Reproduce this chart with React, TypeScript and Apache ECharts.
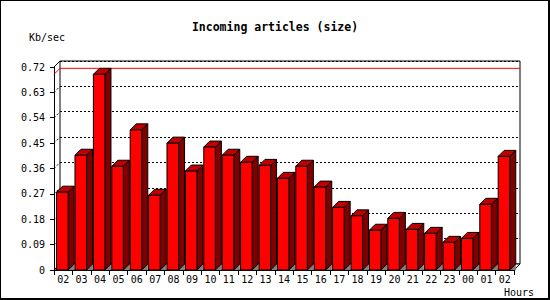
import React, { useEffect, useRef } from "react";
import * as echarts from "echarts";

const hours = ["02","03","04","05","06","07","08","09","10","11","12","13","14","15","16","17","18","19","20","21","22","23","00","01","02"];
const kbPerSec = [0.276,0.407,0.694,0.368,0.497,0.265,0.450,0.351,0.436,0.407,0.382,0.371,0.325,0.368,0.294,0.222,0.192,0.141,0.183,0.144,0.130,0.098,0.112,0.233,0.403];
const yTicks = [0,0.09,0.18,0.27,0.36,0.45,0.54,0.63,0.72];

const FONT = "'DejaVu Sans Mono', monospace";
const D = 6;

export default function App() {
  const ref = useRef<HTMLDivElement>(null);
  useEffect(() => {
    if (!ref.current) return;
    const chart = echarts.init(ref.current, null, { renderer: "svg" });
    const maxV = Math.max(...kbPerSec);

    const renderFrame = (params: any, api: any) => {
      const cs = params.coordSys;
      const x0 = cs.x, y0 = cs.y, w = cs.width, h = cs.height;
      const yb = y0 + h;
      const children: any[] = [];
      children.push({
        type: "polygon",
        shape: { points: [[x0, yb], [x0 + w, yb], [x0 + w + D, yb - D], [x0 + D, yb - D]] },
        style: { fill: "#ffffff", stroke: "#000", lineWidth: 1 },
      });
      children.push({
        type: "line",
        shape: { x1: x0, y1: y0, x2: x0 + D, y2: y0 - D },
        style: { stroke: "#000", lineWidth: 1 },
      });
      yTicks.forEach((v) => {
        const y = api.coord([0, v])[1];
        children.push({
          type: "line",
          shape: { x1: x0, y1: y, x2: x0 + D, y2: y - D },
          style: { stroke: "#000", lineWidth: 1, lineDash: [2, 2] },
        });
      });
      const ym = api.coord([0, maxV])[1];
      children.push({
        type: "polyline",
        shape: { points: [[x0, ym], [x0 + D, ym - D], [x0 + w + D, ym - D]] },
        style: { stroke: "#ff0000", lineWidth: 1, fill: "none" },
      });
      return { type: "group", children };
    };

    const renderBar = (params: any, api: any) => {
      const i = api.value(0);
      const v = api.value(1);
      const top = api.coord([i, v]);
      const bot = api.coord([i, 0]);
      const bw = api.size([1, 0])[0];
      const cx = top[0];
      const yt = top[1], yb = bot[1];
      const fl = cx - bw * 0.36;
      const fr = cx + bw * 0.27;
      return {
        type: "group",
        children: [
          {
            type: "polygon",
            shape: { points: [[fr, yb], [fr + D, yb - D], [fr + D, yb]] },
            style: { fill: "#808080", stroke: "#808080", lineWidth: 0.5 },
          },
          {
            type: "polygon",
            shape: { points: [[fr, yt], [fr + D, yt - D], [fr + D, yb - D], [fr, yb]] },
            style: { fill: "#800000", stroke: "#000", lineWidth: 1 },
          },
          {
            type: "polygon",
            shape: { points: [[fl, yt], [fl + D, yt - D], [fr + D, yt - D], [fr, yt]] },
            style: { fill: "#c00000", stroke: "#000", lineWidth: 1 },
          },
          {
            type: "rect",
            shape: { x: fl, y: yt, width: fr - fl, height: yb - yt },
            style: { fill: "#ff0000", stroke: "#000", lineWidth: 1 },
          },
        ],
      };
    };

    chart.setOption({
      animation: false,
      backgroundColor: "#ffffff",
      grid: [
        { left: 54, right: 36, top: 67, bottom: 30 },
        { left: 60, right: 30, top: 61, bottom: 36, show: true, borderColor: "#000", borderWidth: 1, backgroundColor: "#fff" },
      ],
      xAxis: [
        {
          type: "category",
          gridIndex: 0,
          data: hours,
          boundaryGap: true,
          axisLine: { show: true, lineStyle: { color: "#000", width: 1 } },
          axisTick: { show: true, length: 5, interval: 0, lineStyle: { color: "#000" } },
          axisLabel: { interval: 0, margin: 4, color: "#000", fontFamily: FONT, fontSize: 10 },
          splitLine: { show: false },
          z: 3,
        },
        {
          type: "category",
          gridIndex: 1,
          data: hours,
          show: false,
        },
      ],
      yAxis: [
        {
          type: "value",
          gridIndex: 0,
          min: 0,
          max: 0.72,
          interval: 0.09,
          axisLine: { show: true, lineStyle: { color: "#000", width: 1 } },
          axisTick: { show: true, length: 4, lineStyle: { color: "#000" } },
          axisLabel: {
            margin: 9,
            color: "#000",
            fontFamily: FONT,
            fontSize: 10,
            formatter: (v: number) => (v === 0 ? "0" : v.toFixed(2)),
          },
          splitLine: { show: false },
        },
        {
          type: "value",
          gridIndex: 1,
          min: 0,
          max: 0.72,
          interval: 0.09,
          axisLine: { show: false },
          axisTick: { show: false },
          axisLabel: { show: false },
          splitLine: { show: true, lineStyle: { color: "#000", width: 1, type: [2, 2] } },
        },
      ],
      series: [
        {
          type: "custom",
          xAxisIndex: 0,
          yAxisIndex: 0,
          data: [[0, 0]],
          renderItem: renderFrame,
          encode: { x: 0, y: 1 },
          silent: true,
          clip: false,
        },
        {
          type: "custom",
          xAxisIndex: 0,
          yAxisIndex: 0,
          data: hours.map((h, i) => [i, kbPerSec[i]]),
          renderItem: renderBar,
          encode: { x: 0, y: 1 },
          clip: false,
        },
      ],
      graphic: [
        {
          type: "text",
          x: 275,
          y: 26.5,
          style: {
            text: "Incoming articles (size)",
            fill: "#000",
            fontFamily: FONT,
            fontSize: 11.5,
            fontWeight: "bold",
            align: "center",
            verticalAlign: "middle",
          },
        },
        {
          type: "text",
          x: 29,
          y: 37,
          style: { text: "Kb/sec", fill: "#000", fontFamily: FONT, fontSize: 10, align: "left", verticalAlign: "middle" },
        },
        {
          type: "text",
          x: 504,
          y: 292,
          style: { text: "Hours", fill: "#000", fontFamily: FONT, fontSize: 10, align: "left", verticalAlign: "middle" },
        },
        { type: "line", shape: { x1: 0, y1: 0.5, x2: 550, y2: 0.5 }, style: { stroke: "#000", lineWidth: 1 } },
        { type: "line", shape: { x1: 0.5, y1: 0, x2: 0.5, y2: 300 }, style: { stroke: "#000", lineWidth: 1 } },
        { type: "line", shape: { x1: 0, y1: 299, x2: 550, y2: 299 }, style: { stroke: "#000", lineWidth: 2 } },
        { type: "line", shape: { x1: 549, y1: 0, x2: 549, y2: 300 }, style: { stroke: "#000", lineWidth: 2 } },
      ],
    });
    return () => chart.dispose();
  }, []);
  return (
    <div
      ref={ref}
      style={{ position: "fixed", left: 0, top: 0, width: 550, height: 300, background: "#fff" }}
    />
  );
}
